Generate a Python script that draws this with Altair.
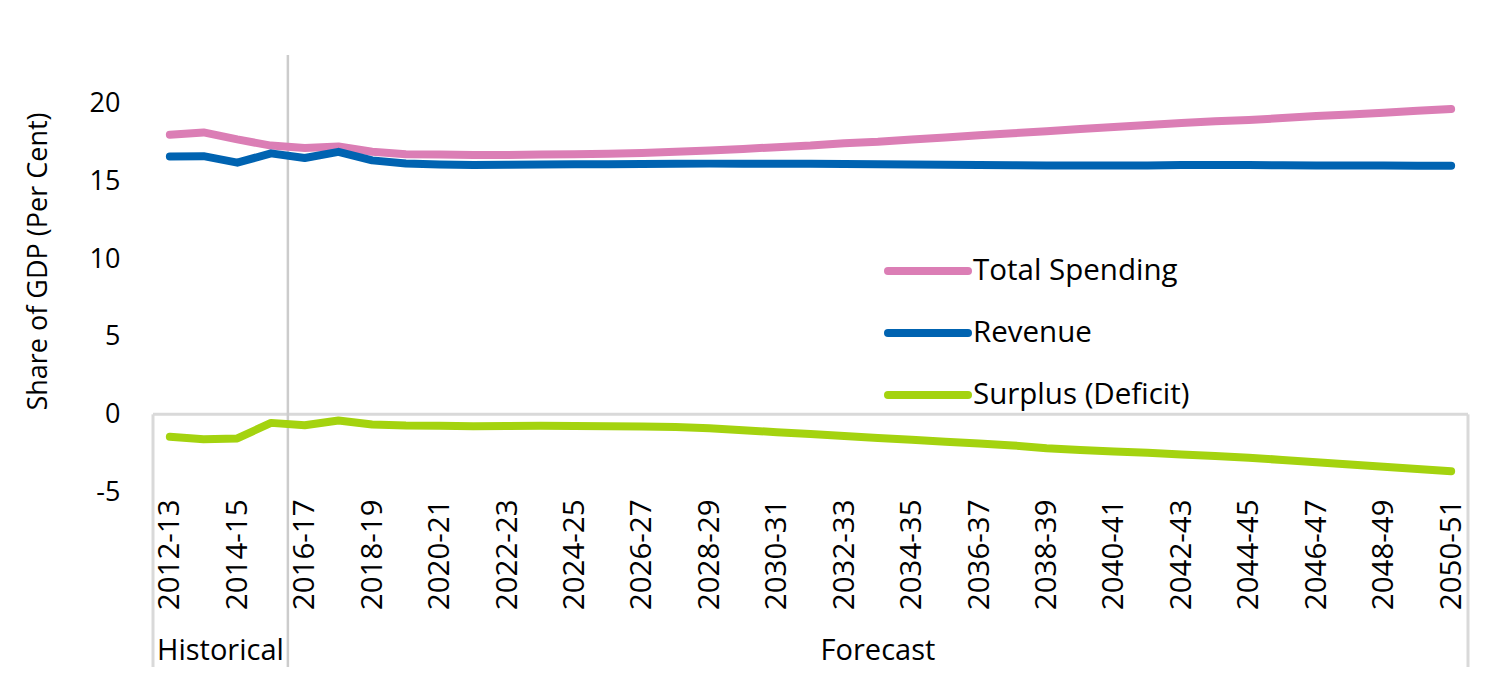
import json
import altair as alt
import pandas as pd

years = ["2012-13", "2013-14", "2014-15", "2015-16", "2016-17", "2017-18", "2018-19",
         "2019-20", "2020-21", "2021-22", "2022-23", "2023-24", "2024-25", "2025-26",
         "2026-27", "2027-28", "2028-29", "2029-30", "2030-31", "2031-32", "2032-33",
         "2033-34", "2034-35", "2035-36", "2036-37", "2037-38", "2038-39", "2039-40",
         "2040-41", "2041-42", "2042-43", "2043-44", "2044-45", "2045-46", "2046-47",
         "2047-48", "2048-49", "2049-50", "2050-51"]

total_spending = [18.0, 18.15, 17.7, 17.3, 17.15, 17.25, 16.9, 16.75, 16.72, 16.7,
                  16.7, 16.72, 16.75, 16.78, 16.82, 16.9, 16.98, 17.08, 17.2, 17.3,
                  17.45, 17.55, 17.7, 17.82, 17.97, 18.1, 18.22, 18.37, 18.5, 18.62,
                  18.75, 18.87, 18.95, 19.07, 19.2, 19.3, 19.42, 19.55, 19.65]

revenue = [16.6, 16.62, 16.2, 16.8, 16.5, 16.9, 16.35, 16.15, 16.08, 16.05,
           16.07, 16.08, 16.1, 16.1, 16.12, 16.13, 16.14, 16.14, 16.14, 16.13,
           16.12, 16.1, 16.09, 16.07, 16.05, 16.04, 16.02, 16.02, 16.02, 16.02,
           16.05, 16.05, 16.05, 16.03, 16.02, 16.02, 16.02, 16.01, 16.0]

surplus = [-1.45, -1.6, -1.55, -0.55, -0.7, -0.4, -0.65, -0.72, -0.74, -0.76,
           -0.75, -0.74, -0.75, -0.76, -0.78, -0.82, -0.9, -1.02, -1.15, -1.27,
           -1.4, -1.52, -1.64, -1.76, -1.88, -2.0, -2.19, -2.29, -2.39, -2.48,
           -2.58, -2.68, -2.79, -2.94, -3.08, -3.23, -3.38, -3.52, -3.67]

series_names = ["Total Spending", "Revenue", "Surplus (Deficit)"]
series_colors = ["#DB7EB5", "#0063B1", "#A4D30F"]

groups = ["Historical", "Forecast"]
group_first = [0, 4]
group_last = [3, 38]

y_ticks = [-5, 0, 5, 10, 15, 20]

FONT = "Open Sans"
W, H = 1315, 466
PAD = {"left": 145, "top": 18, "right": 16, "bottom": 175}
BOTTOM = H + PAD["bottom"]

rows = []
for name, vals in zip(series_names, [total_spending, revenue, surplus]):
    for i, v in enumerate(vals):
        rows.append({"idx": i, "year": years[i], "series": name, "value": v})
df = pd.DataFrame(rows)

xscale = alt.Scale(domain=[-0.5, len(years) - 0.5], nice=False, zero=False)
yscale = alt.Scale(domain=[-5, 25], nice=False, zero=False)

x_axis = alt.Axis(values=list(range(0, len(years), 2)),
                  labelExpr=json.dumps(years) + "[datum.value]",
                  labelAngle=-90, labelFontSize=29.5, labelFont=FONT, labelColor="#000000",
                  labelPadding=7, labelOverlap=False, labelFlush=False,
                  domain=False, ticks=False, tickSize=0, grid=False, title=None)
y_axis = alt.Axis(values=y_ticks, labelExpr="'' + datum.value",
                  labelFontSize=27, labelFont=FONT, labelColor="#000000",
                  labelPadding=33, domain=False, ticks=False, tickSize=0, grid=False,
                  title="Share of GDP (Per Cent)", titleFont=FONT, titleFontSize=27,
                  titleFontWeight="normal", titleColor="#000000", titleAngle=-90,
                  titleAlign="center", titleBaseline="middle", titleX=-115, titleY=235)

# zero line
zero_df = pd.DataFrame({"x0": [-0.5], "x1": [len(years) - 0.5], "y": [0]})
zero_line = alt.Chart(zero_df).mark_rule(color="#D9D9D9", strokeWidth=3).encode(
    x=alt.X("x0:Q", scale=xscale, axis=x_axis),
    x2="x1:Q",
    y=alt.Y("y:Q", scale=yscale, axis=y_axis),
)

# box sides below zero line
edge_df = pd.DataFrame({"pos": [-0.5, len(years) - 0.5], "y": [0, 0]})
edges = alt.Chart(edge_df).mark_rule(color="#D9D9D9", strokeWidth=3).encode(
    x=alt.X("pos:Q", scale=xscale, axis=x_axis),
    y=alt.Y("y:Q", scale=yscale, axis=y_axis),
    y2=alt.value(BOTTOM),
)

# separator between historical and forecast
sep_df = pd.DataFrame({"pos": [(group_last[0] + group_first[1]) / 2]})
separator = alt.Chart(sep_df).mark_rule(color="#CCCCCC", strokeWidth=2.5).encode(
    x=alt.X("pos:Q", scale=xscale, axis=x_axis),
    y=alt.value(29),
    y2=alt.value(BOTTOM),
)

lines = alt.Chart(df).mark_line(strokeWidth=8, strokeCap="round", strokeJoin="round").encode(
    x=alt.X("idx:Q", scale=xscale, axis=x_axis),
    y=alt.Y("value:Q", scale=yscale, axis=y_axis),
    color=alt.Color("series:N", scale=alt.Scale(domain=series_names, range=series_colors), legend=None),
    order=alt.Order("idx:Q"),
)

grp_df = pd.DataFrame({"group": groups,
                       "center": [(a + b) / 2 for a, b in zip(group_first, group_last)]})
group_text = alt.Chart(grp_df).mark_text(font=FONT, fontSize=29, color="#000000",
                                         baseline="middle", align="center").encode(
    x=alt.X("center:Q", scale=xscale, axis=x_axis),
    y=alt.value(625),
    text="group:N",
)

legend_layers = []
for i, (name, col) in enumerate(zip(series_names, series_colors)):
    ldf = pd.DataFrame({"series": [name]})
    ly = 245 + 62 * i
    legend_layers.append(
        alt.Chart(ldf).mark_rule(color=col, strokeWidth=8, strokeCap="round").encode(
            x=alt.value(735), x2=alt.value(815), y=alt.value(ly))
    )
    legend_layers.append(
        alt.Chart(ldf).mark_text(font=FONT, fontSize=29.5, color="#000000", align="left",
                                 baseline="middle").encode(
            x=alt.value(820), y=alt.value(ly), text="series:N")
    )

chart = alt.layer(zero_line, edges, separator, lines, group_text, *legend_layers).properties(
    width=W, height=H, padding=PAD, autosize=alt.AutoSizeParams(type="none"),
    background="#FFFFFF",
).configure_view(stroke=None)

chart.save("out.html", embed_options={"renderer": "svg", "actions": False})
